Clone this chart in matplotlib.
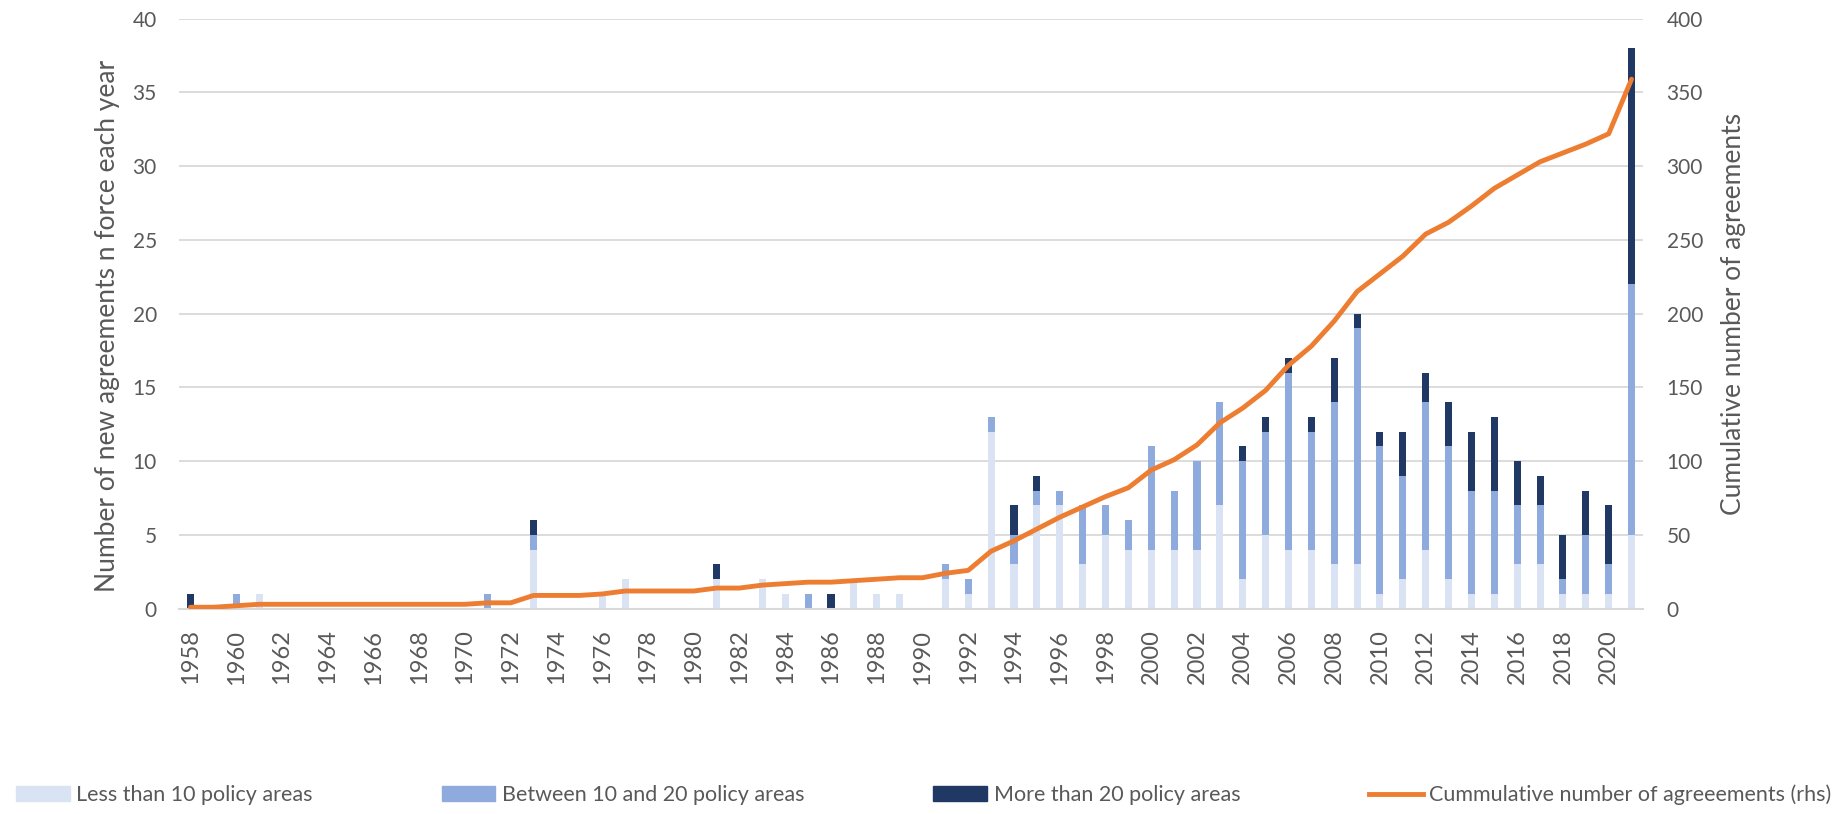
import matplotlib
matplotlib.use("Agg")
import matplotlib.pyplot as plt
import numpy as np
from matplotlib.lines import Line2D
from matplotlib.patches import Patch

plt.rcParams["font.family"] = ["Lato", "DejaVu Sans"]

years = list(range(1958, 2022))

# new agreements in force per year, split by number of policy areas covered
less_than_10 = [
    0, 0, 0, 1, 0, 0, 0, 0, 0, 0,   # 1958-1967
    0, 0, 0, 0, 0, 4, 0, 0, 1, 2,   # 1968-1977
    0, 0, 0, 2, 0, 2, 1, 0, 0, 2,   # 1978-1987
    1, 1, 0, 2, 1, 12, 3, 7, 7, 3,  # 1988-1997
    5, 4, 4, 4, 4, 7, 2, 5, 4, 4,   # 1998-2007
    3, 3, 1, 2, 4, 2, 1, 1, 3, 3,   # 2008-2017
    1, 1, 1, 5,                     # 2018-2021
]
between_10_20 = [
    0, 0, 1, 0, 0, 0, 0, 0, 0, 0,
    0, 0, 0, 1, 0, 1, 0, 0, 0, 0,
    0, 0, 0, 0, 0, 0, 0, 1, 0, 0,
    0, 0, 0, 1, 1, 1, 2, 1, 1, 4,
    2, 2, 7, 4, 6, 7, 8, 7, 12, 8,
    11, 16, 10, 7, 10, 9, 7, 7, 4, 4,
    1, 4, 2, 17,
]
more_than_20 = [
    1, 0, 0, 0, 0, 0, 0, 0, 0, 0,
    0, 0, 0, 0, 0, 1, 0, 0, 0, 0,
    0, 0, 0, 1, 0, 0, 0, 0, 1, 0,
    0, 0, 0, 0, 0, 0, 2, 1, 0, 0,
    0, 0, 0, 0, 0, 0, 1, 1, 1, 1,
    3, 1, 1, 3, 2, 3, 4, 5, 3, 2,
    3, 3, 4, 16,
]
cumulative = [
    1, 1, 2, 3, 3, 3, 3, 3, 3, 3,
    3, 3, 3, 4, 4, 9, 9, 9, 10, 12,
    12, 12, 12, 14, 14, 16, 17, 18, 18, 19,
    20, 21, 21, 24, 26, 39, 46, 54, 62, 69,
    76, 82, 94, 101, 111, 126, 136, 148, 165, 178,
    195, 215, 227, 239, 254, 262, 273, 285, 294, 303,
    309, 315, 322, 359,
]

c_less = "#DAE3F3"
c_mid = "#8FAADC"
c_more = "#203864"
c_line = "#ED7D31"
c_text = "#595959"
c_grid = "#D9D9D9"

fig = plt.figure(figsize=(18.44, 8.14), dpi=100)
ax = fig.add_axes([0.0971, 0.2522, 0.7939, 0.7248])

x = np.arange(len(years))
less = np.array(less_than_10)
mid = np.array(between_10_20)
more = np.array(more_than_20)
w = 0.31

ax.bar(x, less, w, color=c_less, zorder=2)
ax.bar(x, mid, w, bottom=less, color=c_mid, zorder=2)
ax.bar(x, more, w, bottom=less + mid, color=c_more, zorder=2)

ax.set_xlim(-0.5, len(years) - 0.5)
ax.set_ylim(0, 40)
ax.set_yticks(range(0, 41, 5))
ax.yaxis.grid(True, color=c_grid, linewidth=1.3, zorder=0)
ax.set_axisbelow(True)
ax.set_xticks(x[::2])
ax.set_xticklabels([str(y) for y in years[::2]], rotation=90)

for s in ["top", "left", "right"]:
    ax.spines[s].set_visible(False)
ax.spines["bottom"].set_color(c_grid)
ax.spines["bottom"].set_linewidth(1.5)
ax.tick_params(axis="y", length=0, pad=16, labelsize=15, labelcolor=c_text)
ax.tick_params(axis="x", length=0, pad=15, labelsize=17, labelcolor=c_text)
ax.set_ylabel("Number of new agreements n force each year", fontsize=19, color=c_text)
ax.yaxis.set_label_coords(-0.040, 0.48)

ax2 = ax.twinx()
ax2.plot(x, cumulative, color=c_line, linewidth=3.5, solid_capstyle="round",
         solid_joinstyle="round", zorder=3)
ax2.set_ylim(0, 400)
ax2.set_yticks(range(0, 401, 50))
for s in ["top", "left", "right", "bottom"]:
    ax2.spines[s].set_visible(False)
ax2.tick_params(axis="y", length=0, pad=17, labelsize=15, labelcolor=c_text)
ax2.set_ylabel("Cumulative number of agreements", fontsize=19, color=c_text)
ax2.yaxis.set_label_coords(1.053, 0.5)

handles = [
    Patch(color=c_less),
    Patch(color=c_mid),
    Patch(color=c_more),
    Line2D([0], [0], color=c_line, linewidth=3.5),
]
labels = [
    "Less than 10 policy areas",
    "Between 10 and 20 policy areas",
    "More than 20 policy areas",
    "Cummulative number of agreeements (rhs)",
]
fig.legend(handles, labels, loc="lower left", ncol=4, mode="expand",
           bbox_to_anchor=(0.004, 0.0, 0.994, 0.034), frameon=False,
           fontsize=15.5, labelcolor=c_text, handlelength=2.5,
           handletextpad=0.3, borderaxespad=0)

fig.savefig("out.png", dpi=100)
